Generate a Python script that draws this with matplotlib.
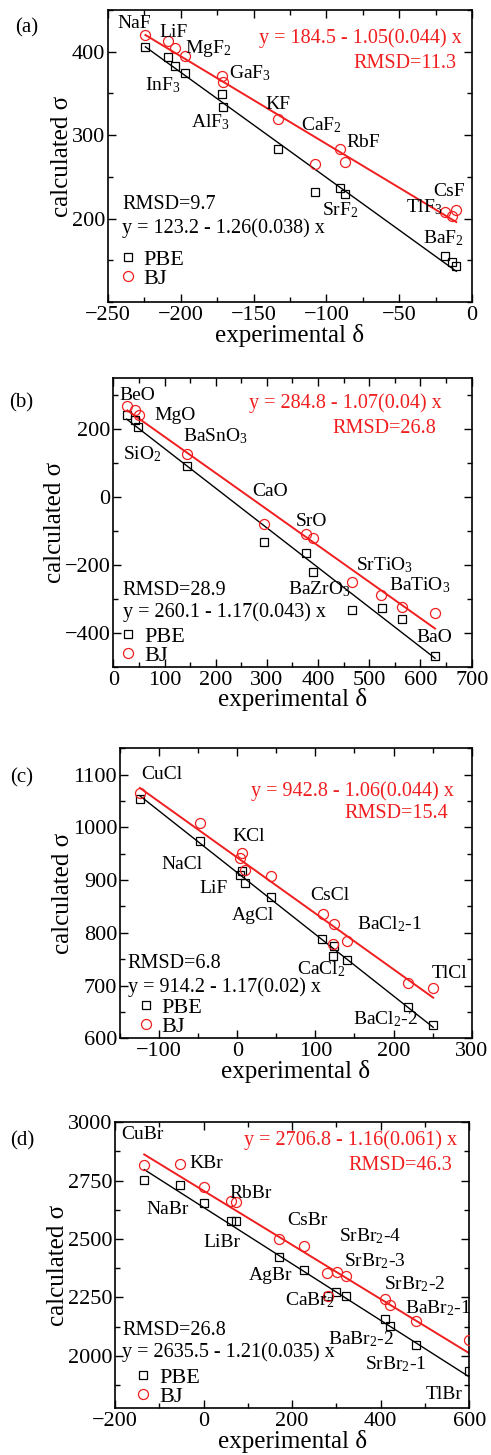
import numpy as np
import matplotlib
matplotlib.use("Agg")
import matplotlib.pyplot as plt

plt.rcParams["font.family"] = ["Liberation Serif", "DejaVu Serif"]
plt.rcParams["mathtext.fontset"] = "custom"
plt.rcParams["mathtext.rm"] = "Liberation Serif"
plt.rcParams["mathtext.it"] = "Liberation Serif:italic"

RED = "#f01e1e"

# ---- panel (a): fluorides ----
a_pbe_x = [-224.3, -208.7, -204.1, -196.8, -172.0, -171.1, -133.0, -108.0, -90.6, -87.2, -18.8, -13.8, -10.8]
a_pbe_y = [406, 394, 383, 375, 349, 334, 283, 232, 237, 229, 155, 148, 143]
a_bj_x = [-224.3, -208.7, -204.1, -196.8, -172.0, -171.1, -133.0, -108.0, -90.6, -87.2, -18.8, -13.8, -10.8]
a_bj_y = [420, 413, 404, 395, 371, 364, 319, 265, 283, 268, 208, 203, 210]
a_fit_pbe = (123.2, 1.26, "0.038", 9.7)
a_fit_bj = (184.5, 1.05, "0.044", 11.3)

# ---- panel (b): oxides ----
b_pbe_x = [26.0, 42.3, 48.2, 143.9, 295.0, 376.0, 390.7, 465.6, 524.2, 564.6, 628.4]
b_pbe_y = [243, 228, 205, 92, -133, -166, -221, -332, -328, -359, -468]
b_bj_x = [27.3, 42.3, 49.5, 143.9, 295.0, 376.0, 390.7, 465.6, 522.9, 564.6, 628.4]
b_bj_y = [269, 258, 241, 127, -80, -110, -122, -249, -289, -323, -341]
b_fit_pbe = (260.1, 1.17, "0.043", 28.9)
b_fit_bj = (284.8, 1.07, "0.04", 26.8)

# ---- panel (c): chlorides ----
c_pbe_x = [-124.0, -47.3, 3.4, 6.4, 9.4, 43.0, 109.0, 124.0, 122.0, 141.0, 218.8, 250.7]
c_pbe_y = [1053, 975, 910, 918, 894, 868, 789, 775, 757, 748, 660, 625]
c_bj_x = [-124.5, -47.3, 6.4, 3.4, 9.8, 43.0, 110.0, 124.0, 122.8, 140.3, 218.8, 250.7]
c_bj_y = [1066, 1009, 951, 941, 919, 907, 836, 817, 779, 785, 704, 696]
c_fit_pbe = (914.2, 1.17, "0.02", 6.8)
c_fit_bj = (942.8, 1.06, "0.044", 15.4)

# ---- panel (d): bromides ----
d_pbe_x = [-134.0, -52.7, 0.0, 62.5, 72.2, 169.3, 226.5, 279.9, 300.0, 320.5, 410.0, 421.4, 479.3, 599.0]
d_pbe_y = [2753, 2733, 2656, 2579, 2579, 2421, 2368, 2254, 2273, 2254, 2157, 2128, 2047, 1934]
d_bj_x = [-134.0, -52.7, 0.0, 62.5, 72.2, 169.3, 226.5, 279.5, 300.2, 320.5, 280.7, 410.0, 421.4, 479.3, 599.0]
d_bj_y = [2817, 2822, 2725, 2665, 2658, 2499, 2471, 2354, 2360, 2340, 2254, 2243, 2217, 2148, 2069]
d_fit_pbe = (2635.5, 1.21, "0.035", 26.8)
d_fit_bj = (2706.8, 1.16, "0.061", 46.3)

# compound labels (text, x, y) in data coordinates, left/baseline anchored
a_labels = [("NaF", -243.8, 428), ("LiF", -214.9, 418), ("MgF$_2$", -196.8, 399),
            ("GaF$_3$", -166.7, 368), ("InF$_3$", -224.3, 354), ("KF", -141.7, 331),
            ("AlF$_3$", -193.1, 309), ("CaF$_2$", -117.4, 306), ("RbF", -86.0, 286),
            ("SrF$_2$", -103.2, 204), ("CsF", -26.4, 227), ("TlF$_3$", -45.2, 207),
            ("BaF$_2$", -33.7, 170)]
b_labels = [("BeO", 11, 285), ("MgO", 80, 228), ("BaSnO$_3$", 136.7, 163),
            ("SiO$_2$", 19.5, 111), ("CaO", 271.5, 3), ("SrO", 356.8, -84),
            ("SrTiO$_3$", 474, -215), ("BaTiO$_3$", 538.5, -274),
            ("BaZrO$_3$", 340.6, -288), ("BaO", 591.3, -428)]
c_labels = [("CuCl", -122.4, 1091), ("KCl", -6.4, 975), ("NaCl", -96.8, 922),
            ("LiF", -47.8, 876), ("CsCl", 93.8, 863), ("AgCl", -6.4, 824),
            ("BaCl$_2$-1", 152.7, 807), ("CaCl$_2$", 77.0, 722), ("TlCl", 248.6, 715),
            ("BaCl$_2$-2", 147.5, 626)]
d_labels = [("CuBr", -186.6, 2929), ("KBr", -32.4, 2803), ("RbBr", 58.7, 2675),
            ("NaBr", -130.2, 2608), ("CsBr", 189.6, 2558), ("LiBr", -1.5, 2468),
            ("SrBr$_2$-4", 304.7, 2492), ("SrBr$_2$-3", 316, 2385), ("AgBr", 101.6, 2325),
            ("SrBr$_2$-2", 406.3, 2285), ("CaBr$_2$", 182.8, 2218),
            ("BaBr$_2$-1", 453.7, 2183), ("BaBr$_2$-2", 280.7, 2047),
            ("SrBr$_2$-1", 365, 1940), ("TlBr", 500.4, 1815)]

W, H = 491, 1455
fig = plt.figure(figsize=(W / 100, H / 100), dpi=100)


def make_axes(l, r, t, b):
    return fig.add_axes([l / W, 1 - b / H, (r - l) / W, (b - t) / H])


def ticks(lo, hi, step):
    return np.arange(np.ceil(lo / step) * step, hi + 1e-9, step)


def draw_panel(ax, tag, tag_xy, pbe_x, pbe_y, bj_x, bj_y, fit_pbe, fit_bj, labels,
               xlim, ylim, xmaj, xmin, ymaj, ymin, txt_pos, leg_anchor):
    for xs, fit, col, lw in [(pbe_x, fit_pbe, "black", 1.0), (bj_x, fit_bj, RED, 1.4)]:
        xx = np.array([min(xs), max(xs)])
        ax.plot(xx, fit[0] - fit[1] * xx, color=col, lw=lw, zorder=2)
    ax.plot(pbe_x, pbe_y, "s", ms=5.4, mfc="none", mec="black", mew=0.9,
            label="PBE", zorder=3)
    ax.plot(bj_x, bj_y, "o", ms=7.2, mfc="none", mec=RED, mew=0.9,
            label="BJ", zorder=3)

    for text, x, y in labels:
        size = 10 if text == "RbCl" else 14
        ax.text(x, y, text, fontsize=size, ha="left", va="baseline")

    (rx, ry1, ry2), (kx, ky1, ky2) = txt_pos
    ax.text(rx, ry1, f"y = {fit_bj[0]} - {fit_bj[1]:.2f}({fit_bj[2]}) x", color=RED,
            fontsize=14.5, ha="right", va="baseline", transform=ax.transAxes)
    ax.text(rx - 0.015, ry2, f"RMSD={fit_bj[3]}", color=RED,
            fontsize=14.5, ha="right", va="baseline", transform=ax.transAxes)
    ax.text(kx, ky1, f"RMSD={fit_pbe[3]}", fontsize=14.5, ha="left",
            va="baseline", transform=ax.transAxes)
    ax.text(kx, ky2, f"y = {fit_pbe[0]} - {fit_pbe[1]:.2f}({fit_pbe[2]}) x",
            fontsize=14.5, ha="left", va="baseline", transform=ax.transAxes)

    ax.legend(loc="lower left", bbox_to_anchor=leg_anchor, frameon=False,
              fontsize=16, handlelength=0.6, handletextpad=0.4,
              labelspacing=-0.08, borderpad=0.2, borderaxespad=0.0)

    ax.set_xlim(*xlim)
    ax.set_ylim(*ylim)
    ax.set_xticks(ticks(xlim[0], xlim[1], xmaj))
    ax.set_xticks(ticks(xlim[0], xlim[1], xmin), minor=True)
    ax.set_yticks(ticks(ylim[0], ylim[1], ymaj))
    ax.set_yticks(ticks(ylim[0], ylim[1], ymin), minor=True)
    ax.tick_params(which="both", direction="in", top=True, right=True,
                   labelsize=16, width=1.0)
    ax.tick_params(axis="y", pad=2)
    ax.tick_params(axis="x", pad=3)
    ax.tick_params(which="major", length=6)
    ax.tick_params(which="minor", length=3.5)
    for s in ax.spines.values():
        s.set_linewidth(1.2)
    ax.set_xlabel("experimental δ", fontsize=18, labelpad=-1)
    ax.set_ylabel("calculated σ", fontsize=18, labelpad=-1)
    fig.text(tag_xy[0] / W, 1 - tag_xy[1] / H, tag, fontsize=15, ha="left", va="baseline")


ax_a = make_axes(108, 472, 10, 302)
draw_panel(ax_a, "(a)", (15, 32), a_pbe_x, a_pbe_y, a_bj_x, a_bj_y, a_fit_pbe, a_fit_bj,
           a_labels, (-250, 0), (100, 450), 50, 25, 100, 50,
           ((0.972, 0.886, 0.80), (0.0385, 0.32, 0.238)), (0.024, 0.03))
# panel (a) shows no label at the bottom y limit
ax_a.set_yticks([200, 300, 400])

ax_b = make_axes(113.3, 471.7, 378.3, 666.7)
draw_panel(ax_b, "(b)", (9, 407), b_pbe_x, b_pbe_y, b_bj_x, b_bj_y, b_fit_pbe, b_fit_bj,
           b_labels, (0, 700), (-500, 350), 100, 50, 200, 100,
           ((0.916, 0.896, 0.812), (0.026, 0.249, 0.171)), (0.011, -0.013))

ax_c = make_axes(120, 471.7, 748.3, 1038.3)
draw_panel(ax_c, "(c)", (10, 782), c_pbe_x, c_pbe_y, c_bj_x, c_bj_y, c_fit_pbe, c_fit_bj,
           c_labels, (-150, 300), (600, 1150), 100, 50, 100, 50,
           ((0.948, 0.837, 0.76), (0.022, 0.241, 0.161)), (0.042, -0.01))

ax_d = make_axes(115, 469.3, 1122.3, 1408.3)
draw_panel(ax_d, "(d)", (10, 1145), d_pbe_x, d_pbe_y, d_bj_x, d_bj_y, d_fit_pbe, d_fit_bj,
           d_labels, (-200, 600), (1775, 3000), 200, 100, 250, 125,
           ((0.966, 0.921, 0.833), (0.021, 0.256, 0.178)), (0.049, -0.01))

fig.savefig("out.png", dpi=100)
